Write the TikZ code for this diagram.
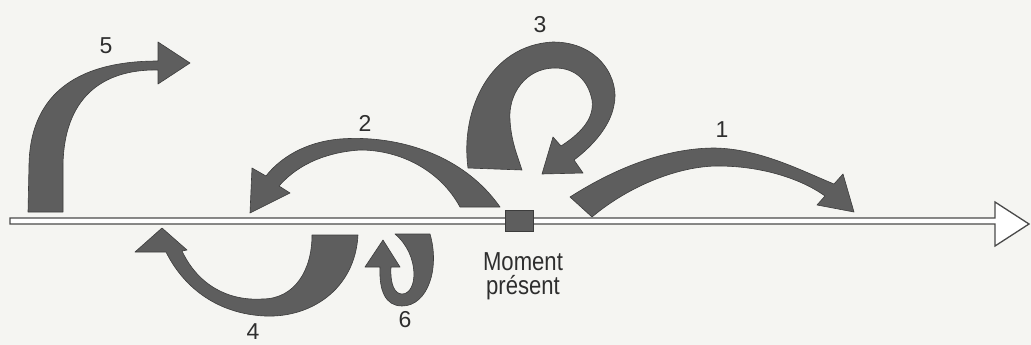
\documentclass[tikz,border=0pt]{standalone}
\usepackage{fontspec}
\setmainfont{Liberation Sans}
\usetikzlibrary{positioning}
\definecolor{BandFill}{HTML}{5E5E5E}
\definecolor{BandEdge}{HTML}{3C3C3C}
\definecolor{AxisEdge}{HTML}{4A4A4A}
\definecolor{PaperBack}{HTML}{F5F5F2}
\definecolor{LabelInk}{HTML}{2E2E2E}
\tikzset{band/.style={fill=BandFill,draw=BandEdge,line width=.6pt,line join=round},
 axisline/.style={draw=AxisEdge,fill=white,line width=1.3pt,line join=miter},
 numlab/.style={font=\fontsize{23}{26}\selectfont,text=LabelInk,inner sep=0pt},
 nowbox/.style={fill=BandFill,draw=BandEdge,line width=.6pt,minimum width=28pt,
 minimum height=21pt,inner sep=0pt}}
\begin{document}
\begin{tikzpicture}[x=1pt,y=-1pt]
\fill[PaperBack] (0,0) rectangle (1031,345);
\useasboundingbox (0,0) rectangle (1031,345);
\draw[axisline] (10,218)--(995,218)--(995,202)--(1029,224)--(995,246)--(995,224)--(10,224)--cycle;
\node[nowbox] (now) at (519,221) {};
\node[font=\fontsize{26}{24}\selectfont,text=LabelInk,align=center,xscale=.85] (nowlab) at (523,276) {Moment\\présent};
\fill[band] (570,197) .. controls (620,165) and (670,148) .. (715,148) .. controls (760,149) and (800,170) .. (834,184)
 --(843,174)--(854,212)--(817,205)--(825,196) .. controls (800,178) and (760,166) .. (718,166)
 .. controls (680,166) and (630,185) .. (592,217)--cycle;
\fill[band] (500,207) .. controls (460,150) and (390,135) .. (340,139) .. controls (305,142) and (280,158) .. (266,176)
 --(252,168)--(250,213)--(290,193)--(279,186) .. controls (300,162) and (330,152) .. (360,150)
 .. controls (400,150) and (440,170) .. (460,207)--cycle;
\fill[band] (468,168) .. controls (460,110) and (490,45) .. (553,42) .. controls (600,42) and (620,80) .. (614,105)
 .. controls (610,128) and (590,148) .. (574,160)--(583,173)--(542,174)--(553,137)--(561,146)
 .. controls (578,135) and (595,120) .. (592,100) .. controls (588,80) and (575,68) .. (555,68)
 .. controls (525,68) and (508,95) .. (510,120) .. controls (511,140) and (517,155) .. (522,170)--cycle;
\fill[band] (358,235) .. controls (355,290) and (310,318) .. (265,316) .. controls (220,314) and (185,290) .. (166,252)
 --(135,252)--(162,228)--(187,250)--(182,251) .. controls (198,285) and (228,301) .. (262,299)
 .. controls (295,299) and (312,270) .. (312,235)--cycle;
\fill[band] (28,212)--(29,165) .. controls (30,100) and (70,61) .. (158,61)--(158,42)--(190,63)--(158,84)--(158,70)
 .. controls (100,69) and (64,100) .. (63,165)--(63,212)--cycle;
\fill[band] (430,234) .. controls (440,268) and (428,306) .. (402,306) .. controls (385,306) and (379,290) .. (380,267)
 --(365,267)--(383,240)--(400,267)--(391,267) .. controls (390,285) and (395,294) .. (402,294)
 .. controls (418,294) and (420,255) .. (395,234)--cycle;
\foreach \n/\p in {1/{(722,130)},2/{(365,123)},3/{(540,25)},4/{(253,332)},5/{(106,46)},6/{(405,320)}}
 {\node[numlab] (lab\n) at \p {\n};}
\end{tikzpicture}
\end{document}
